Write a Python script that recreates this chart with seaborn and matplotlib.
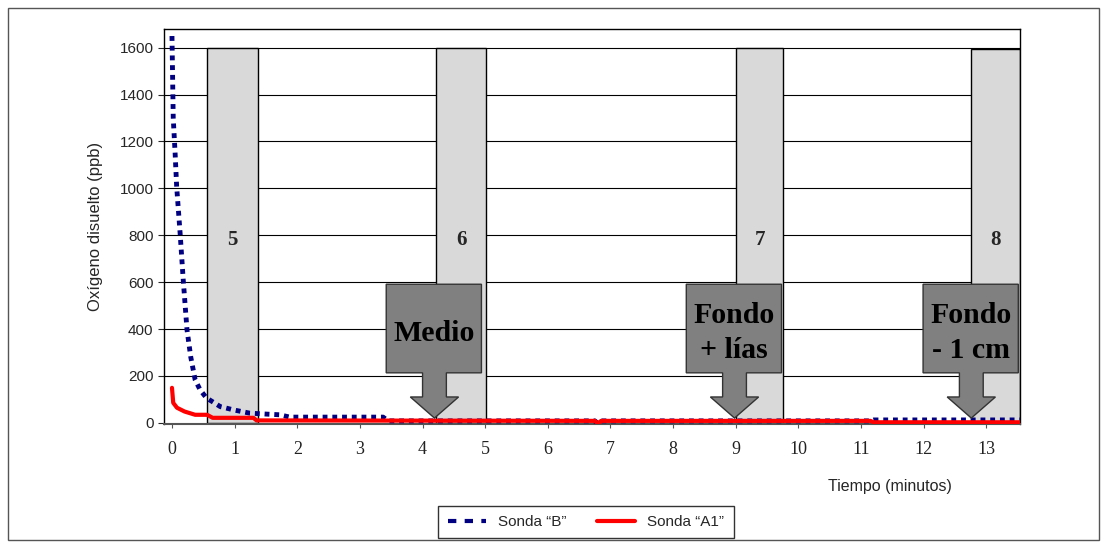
import numpy as np
import pandas as pd
import matplotlib
matplotlib.use("Agg")
import matplotlib.pyplot as plt
import seaborn as sns
from matplotlib.lines import Line2D
from matplotlib.patches import Polygon, Rectangle

# Sonda "B" (ppb) frente al tiempo (minutos)
tiempo_b = [0.0, 0.02, 0.05, 0.075, 0.13, 0.18, 0.24, 0.30, 0.37, 0.45, 0.55,
            0.77, 0.98, 1.24, 1.50, 1.72, 1.88, 2.50, 3.37, 3.45, 6.75, 6.80,
            6.85, 11.15, 11.20, 13.55]
oxigeno_b = [1650, 1300, 1150, 1006, 808, 608, 396, 280, 183, 140, 106,
             69, 55, 41, 37, 34, 24, 24, 24, 8, 8, -3,
             8, 8, 12, 12]

# Sonda "A1"
tiempo_a1 = [0.0, 0.02, 0.08, 0.20, 0.37, 0.56, 0.65, 1.30, 1.35, 6.75,
             6.80, 6.85, 11.15, 11.20, 13.55]
oxigeno_a1 = [149, 85, 64, 48, 34, 34, 21, 21, 10, 8,
              -3, 8, 8, 2, 2]

# muestras (barras grises)
muestras = ["5", "6", "7", "8"]
muestra_ini = [0.56, 4.21, 9.00, 12.76]
muestra_fin = [1.37, 5.02, 9.76, 13.53]
muestra_alto = [1600, 1600, 1600, 1595]

# flechas
flecha_txt = ["Medio", "Fondo\n+ lías", "Fondo\n- 1 cm"]
flecha_x = [4.19, 8.98, 12.76]

sns.set_style("white")
plt.rcParams["font.family"] = ["Liberation Sans", "DejaVu Sans"]

fig = plt.figure(figsize=(11.07, 5.47), dpi=100)
ax = fig.add_axes([0.148, 0.225, 0.773, 0.722])

ax.set_xlim(-0.13, 13.53)
ax.set_ylim(-5, 1680)

for y in range(200, 1601, 200):
    ax.axhline(y, color="black", lw=0.8, zorder=0)

anchos = [f - i for i, f in zip(muestra_ini, muestra_fin)]
ax.bar(muestra_ini, muestra_alto, width=anchos, align="edge", color="#d9d9d9",
       edgecolor="black", linewidth=1, zorder=1)
for ini, fin, m in zip(muestra_ini, muestra_fin, muestras):
    ax.text((ini + fin) / 2, 780, m, ha="center", va="center", fontsize=15,
            fontweight="bold", family="Liberation Serif", zorder=2)

df_b = pd.DataFrame({"t": tiempo_b, "o": oxigeno_b})
df_a = pd.DataFrame({"t": tiempo_a1, "o": oxigeno_a1})
sns.lineplot(data=df_b, x="t", y="o", ax=ax, color="#000080", lw=3.5,
             linestyle=(0, (1, 1)), zorder=3, estimator=None, sort=False)
sns.lineplot(data=df_a, x="t", y="o", ax=ax, color="#ff0000", lw=3,
             zorder=4, estimator=None, sort=False)

# flechas de bloque
caja_w, caja_abajo, caja_arriba = 1.52, 213, 591
eje_w, cabeza_w, cabeza_y = 0.38, 0.77, 110
for xt, txt in zip(flecha_x, flecha_txt):
    cx = xt
    izq = cx - caja_w / 2 - 0.01
    der = izq + caja_w
    verts = [(izq, caja_arriba), (der, caja_arriba), (der, caja_abajo),
             (cx + eje_w / 2, caja_abajo), (cx + eje_w / 2, cabeza_y),
             (cx + cabeza_w / 2, cabeza_y), (cx, 20),
             (cx - cabeza_w / 2, cabeza_y), (cx - eje_w / 2, cabeza_y),
             (cx - eje_w / 2, caja_abajo), (izq, caja_abajo)]
    ax.add_patch(Polygon(verts, closed=True, facecolor="#808080",
                         edgecolor="#333333", lw=1, zorder=5, clip_on=False))
    ax.text((izq + der) / 2, (caja_arriba + caja_abajo) / 2 - 20, txt,
            ha="center", va="center", fontsize=21.5, color="black",
            fontweight="bold", family="Liberation Serif", linespacing=1.4,
            zorder=6)

ax.set_xticks(range(0, 14))
ax.set_xticklabels([str(i) for i in range(0, 14)], family="Liberation Serif",
                   fontsize=13, color="#222222")
ax.set_yticks(range(0, 1601, 200))
ax.tick_params(axis="y", labelsize=11, length=4, direction="out", left=True)
ax.tick_params(axis="x", length=3, direction="out", bottom=True, pad=9,
               color="#555555")
ax.set_xlabel("")
ax.set_ylabel("Oxígeno disuelto (ppb)", fontsize=12, labelpad=12)

for s in ["left", "top", "right"]:
    ax.spines[s].set_color("black")
    ax.spines[s].set_linewidth(1)
ax.spines["bottom"].set_color("#555555")
ax.spines["bottom"].set_linewidth(1.5)

fig.text(890 / 1107, 1 - 487 / 547, "Tiempo (minutos)", ha="center",
         va="center", fontsize=11.5)

handles = [Line2D([], [], color="#000080", lw=3, linestyle=(0, (2, 2))),
           Line2D([], [], color="#ff0000", lw=3)]
leg = fig.legend(handles, ["Sonda “B”", "Sonda “A1”"], loc="center",
                 bbox_to_anchor=(586 / 1107, 1 - 522 / 547), ncol=2,
                 fontsize=11, frameon=True, fancybox=False, handlelength=2.5,
                 columnspacing=2, borderpad=0.6)
leg.get_frame().set_edgecolor("black")
leg.get_frame().set_linewidth(1)

fig.patches.append(Rectangle((8 / 1107, 7 / 547), 1091 / 1107, 532 / 547,
                             transform=fig.transFigure, fill=False,
                             edgecolor="#555555", lw=1))

fig.savefig("out.png", dpi=100)
